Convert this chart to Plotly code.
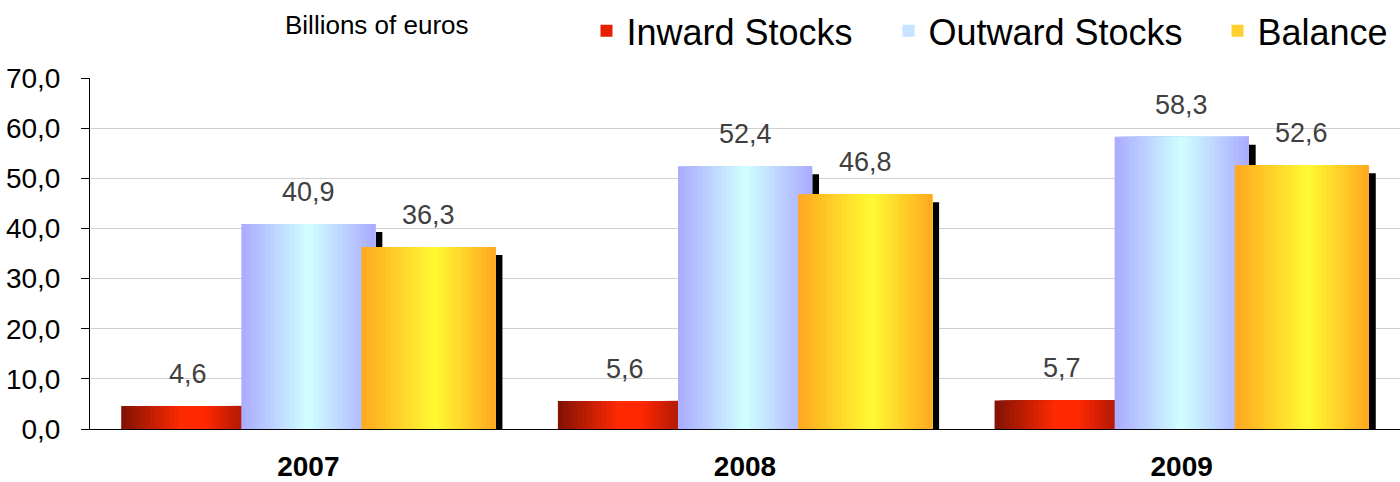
import plotly.graph_objects as go

# ---- data ----
years = ["2007", "2008", "2009"]
series_names = ["Inward Stocks", "Outward Stocks", "Balance"]
inward = [4.6, 5.6, 5.7]
outward = [40.9, 52.4, 58.3]
balance = [36.3, 46.8, 52.6]
y_ticks = [0, 10, 20, 30, 40, 50, 60, 70]

series_values = [inward, outward, balance]

# ---- styling ----
FONT = "Liberation Sans, Arial, sans-serif"
gradients = [
    [(0.0, (128, 18, 4)), (0.45, (255, 42, 0)), (0.62, (255, 40, 0)), (1.0, (150, 20, 8))],
    [(0.0, (170, 170, 255)), (0.5, (208, 255, 255)), (1.0, (170, 170, 255))],
    [(0.0, (255, 168, 32)), (0.55, (255, 250, 50)), (1.0, (255, 168, 32))],
]
legend_colors = ["#E82000", "#C4E4FF", "#FFD030"]
legend_widths = [257, 284, None]

W = 0.307      # bar width (axis units)
STEP = 0.275   # distance between bar left edges inside a group
N = 28         # stripes per bar to simulate the horizontal gradient
SH_DX = 0.016  # shadow offset (x, axis units)
SH_DY = 1.6    # shadow offset (y, data units)

xs = list(range(len(years)))


def grad(stops, t):
    for (t0, c0), (t1, c1) in zip(stops[:-1], stops[1:]):
        if t <= t1:
            f = (t - t0) / (t1 - t0) if t1 > t0 else 0
            c = [round(a + (b - a) * f) for a, b in zip(c0, c1)]
            return "rgb(%d,%d,%d)" % tuple(c)
    return "rgb(%d,%d,%d)" % stops[-1][1]


fig = go.Figure()
offsets = [-(W + 2 * STEP) / 2 + k * STEP for k in range(3)]

for k, (name, vals) in enumerate(zip(series_names, series_values)):
    off = offsets[k]
    # shadow
    fig.add_trace(go.Bar(
        x=xs, y=[max(v - SH_DY, 0) for v in vals], width=W, offset=off + SH_DX,
        marker=dict(color="black", line=dict(width=0)), showlegend=False, hoverinfo="skip"))
    # gradient stripes
    for i in range(N):
        fig.add_trace(go.Bar(
            x=xs, y=vals, width=W - i * W / N, offset=off + i * W / N,
            marker=dict(color=grad(gradients[k], (i + 0.5) / N), line=dict(width=0)),
            showlegend=False, hoverinfo="skip" if i else "y"))
    # legend entry
    lg = dict(x=[None], y=[None], name=name,
              marker=dict(color=legend_colors[k], line=dict(width=0)))
    if legend_widths[k]:
        lg["legendwidth"] = legend_widths[k]
    fig.add_trace(go.Bar(**lg))
    # value labels
    for x, v in zip(xs, vals):
        fig.add_annotation(x=x + off + W / 2, y=v, yshift=32, showarrow=False,
                           text=("%.1f" % v).replace(".", ","),
                           font=dict(family=FONT, size=27, color="#404040"),
                           xanchor="center", yanchor="middle")

fig.add_annotation(xref="paper", yref="paper", x=0.219, y=1.151, showarrow=False,
                   text="Billions of euros", xanchor="center", yanchor="middle",
                   font=dict(family=FONT, size=26, color="black"))

fig.update_layout(
    width=1400, height=482,
    margin=dict(l=90, r=0, t=78, b=53, autoexpand=False),
    barmode="overlay",
    plot_bgcolor="white", paper_bgcolor="white",
    separators=", ",
    font=dict(family=FONT, color="black"),
    showlegend=True,
    legend=dict(orientation="h", x=0.379, xanchor="left", y=1.134, yanchor="middle",
                font=dict(family=FONT, size=36, color="black"),
                bgcolor="rgba(0,0,0,0)", traceorder="normal"),
    xaxis=dict(range=[-0.5, 2.5], tickvals=xs, ticktext=years, showgrid=False,
               zeroline=False, showline=True, linecolor="black", linewidth=1,
               ticks="", ticklabelstandoff=12, automargin=False,
               tickfont=dict(family=FONT, size=28, color="black", weight="bold")),
    yaxis=dict(range=[0, 70], tickvals=y_ticks, tickformat=".1f", showgrid=True,
               gridcolor="#D0D0D0", gridwidth=1, zeroline=False, showline=True,
               linecolor="black", linewidth=1, ticks="outside", ticklen=8,
               tickcolor="black", ticklabelstandoff=15, automargin=False,
               tickfont=dict(family=FONT, size=28, color="black")),
)

fig.write_html("out.html", config={"displayModeBar": False},
               post_script="document.body.style.margin='0';")
